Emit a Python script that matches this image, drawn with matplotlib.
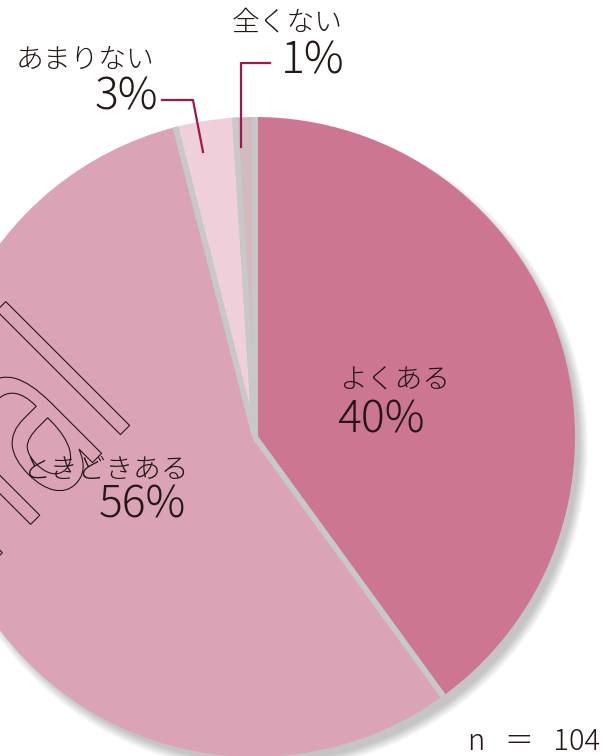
import numpy as np
import matplotlib
matplotlib.use("Agg")
import matplotlib.pyplot as plt
from matplotlib.textpath import TextPath
from matplotlib.font_manager import FontProperties
from matplotlib.patches import PathPatch
from matplotlib.transforms import Affine2D

plt.rcParams['font.family'] = ['Noto Sans CJK JP', 'DejaVu Sans']

categories = ["よくある", "ときどきある", "あまりない", "全くない"]
values = [40, 56, 3, 1]
pct_labels = ["40%", "56%", "3%", "1%"]
colors = ["#cc7692", "#dba4b6", "#efd0da", "#d4babe"]
n_label = "n   ＝   104"

W, H = 614, 756
fig = plt.figure(figsize=(W / 100, H / 100), dpi=100)
ax = fig.add_axes([0, 0, 1, 1])

cx, cy, R = 255, 756 - 437, 320

# soft shadow (lower right)
for k in range(10):
    ax.pie(values, radius=R + 6 - k * 1.0, center=(cx + 7, cy - 9),
           colors=["#000000"] * len(values), startangle=90, counterclock=False,
           wedgeprops=dict(alpha=0.025, linewidth=0))

wedges, _ = ax.pie(values, radius=R, center=(cx, cy), colors=colors,
                   startangle=90, counterclock=False,
                   wedgeprops=dict(linewidth=0))

# gaps between slices
for w in wedges:
    for ang in (w.theta1, w.theta2):
        a = np.deg2rad(ang)
        ax.plot([cx, cx + R * np.cos(a)], [cy, cy + R * np.sin(a)],
                color="#c8c8c8", lw=4, solid_capstyle="butt", zorder=3)

ax.set_xlim(0, W)
ax.set_ylim(0, H)
ax.set_aspect("equal")
ax.axis("off")

# decorative outlined lettering (watermark)
fp = FontProperties(family="DejaVu Sans")
tp = TextPath((0, 0), "nal", size=1, prop=fp)
tn = TextPath((0, 0), "n", size=1, prop=fp)
lx1 = tp.get_extents().x1
nx1 = tn.get_extents().x1
em = 127 / (lx1 - nx1)
stem = 0.045
tr = (Affine2D().translate(-(lx1 - stem), 0).scale(em, em * 1.6)
      .rotate_deg(45).translate(125, H - 430))
ax.add_patch(PathPatch(tr.transform_path(tp), facecolor="none",
                       edgecolor="#231815", lw=0.8, zorder=4))

txt = "#231815"
lead = "#a3164f"

def y(v):
    return H - v

kw = dict(color=txt, ha="center", va="center", zorder=5, fontweight="light")
ax.text(395, y(380), categories[0], fontsize=20, **kw)
ax.text(381, y(420), pct_labels[0], fontsize=32, **kw)
ax.text(105, y(470), categories[1], fontsize=20, **kw)
ax.text(142, y(505), pct_labels[1], fontsize=32, **kw)
ax.text(85, y(60), categories[2], fontsize=20, **kw)
ax.text(126, y(97), pct_labels[2], fontsize=32, **kw)
ax.text(287, y(22), categories[3], fontsize=20, **kw)
ax.text(313, y(61), pct_labels[3], fontsize=32, **kw)

ax.plot([162, 193, 203], [y(100), y(100), y(152)], color=lead, lw=1.6, zorder=6)
ax.plot([270, 241, 241], [y(63), y(63), y(147)], color=lead, lw=1.6, zorder=6)

ax.text(600, y(742), n_label, fontsize=21, color=txt, ha="right", va="center",
        fontweight="light")

fig.savefig("out.png", dpi=100)
